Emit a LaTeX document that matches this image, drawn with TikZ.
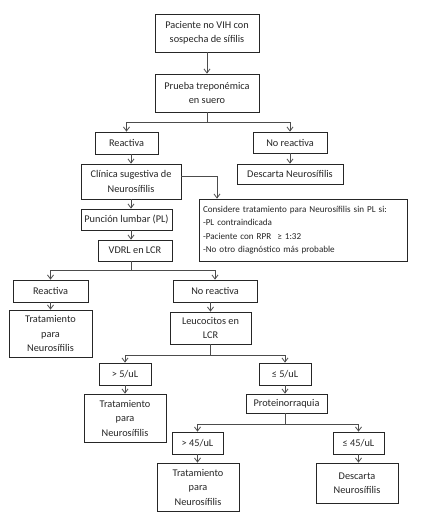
\documentclass[tikz,border=0pt]{standalone}
\usepackage{fontspec}
\setmainfont{Carlito}
\usetikzlibrary{arrows.meta}
\tikzset{
  box/.style={draw=black!85, line width=0.8pt, fill=white, text=black!85, align=center,
    inner sep=1pt, font=\fontsize{10.3}{14.5}\selectfont},
  line/.style={draw=black!70, line width=0.8pt},
  arr/.style={line, -{Straight Barb[length=4pt,width=6pt]}}
}
\begin{document}
\begin{tikzpicture}[x=1pt,y=-1pt]
	\useasboundingbox (0,0) rectangle (435,527);
	% nodes
	\node[box, minimum width=104, minimum height=38] (p1) at (207,33) {Paciente no VIH con\\sospecha de sífilis};
	\node[box, minimum width=104, minimum height=38] (p2) at (207,93) {Prueba treponémica\\en suero};
	\node[box, minimum width=63, minimum height=22] (r1) at (126.5,143) {Reactiva};
	\node[box, minimum width=74, minimum height=21] (nr1) at (290,142.5) {No reactiva};
	\node[box, minimum width=106, minimum height=20] (d1) at (290,174) {Descarta Neurosífilis};
	\node[box, minimum width=100, minimum height=35] (c1) at (131,181.5) {Clínica sugestiva de\\Neurosífilis};
	\node[box, minimum width=208, minimum height=62, align=left, text width=200,
	  font=\fontsize{9.1}{13.3}\selectfont] (k1) at (303,230)
	  {Considere tratamiento para Neurosífilis sin PL si:\\-PL contraindicada\\-Paciente con RPR \ ≥ 1:32\\-No otro diagnóstico más probable};
	\node[box, minimum width=91, minimum height=21] (pl) at (126.5,219.5) {Punción lumbar (PL)};
	\node[box, minimum width=74, minimum height=21] (vd) at (135,250.5) {VDRL en LCR};
	\node[box, minimum width=75, minimum height=22] (r2) at (50.5,291) {Reactiva};
	\node[box, minimum width=84, minimum height=22] (nr2) at (215,291) {No reactiva};
	\node[box, minimum width=83, minimum height=47] (t1) at (50.5,333.5) {Tratamiento\\para\\Neurosífilis};
	\node[box, minimum width=81, minimum height=32] (lc) at (210.5,328) {Leucocitos en\\LCR};
	\node[box, minimum width=52, minimum height=22] (g5) at (125,374) {> 5/uL};
	\node[box, minimum width=52, minimum height=22] (le5) at (285,374) {≤ 5/uL};
	\node[box, minimum width=82, minimum height=48] (t2) at (125,418) {Tratamiento\\para\\Neurosífilis};
	\node[box, minimum width=81, minimum height=19] (pr) at (286.5,403.5) {Proteinorraquia};
	\node[box, minimum width=51, minimum height=22] (g45) at (197.5,443) {> 45/uL};
	\node[box, minimum width=51, minimum height=22] (le45) at (358.5,443) {≤ 45/uL};
	\node[box, minimum width=82, minimum height=48] (t3) at (198,487) {Tratamiento\\para\\Neurosífilis};
	\node[box, minimum width=82, minimum height=40] (d2) at (357,483) {Descarta\\Neurosífilis};
	% connectors
	\draw[arr] (p1) -- (p2);
	\draw[line] (p2.south) -- ++(0,10) coordinate (b1);
	\draw[arr] (b1) -| (r1.north);
	\draw[arr] (b1) -| (nr1.north);
	\draw[arr] (nr1) -- (d1);
	\draw[arr] (r1.south -| c1) -- (c1.north);
	\draw[arr] (c1.east) ++(0,-5.5) coordinate (b2) -| (k1.north -| 217,0);
	\draw[arr] (c1.south) -- (c1.south |- pl.north);
	\draw[arr] (c1.south |- pl.south) -- (c1.south |- vd.north);
	\draw[line] (c1.south |- vd.south) -- ++(0,9) coordinate (b3);
	\draw[arr] (b3) -| (r2.north);
	\draw[arr] (b3) -| (nr2.north);
	\draw[arr] (r2) -- (t1);
	\draw[arr] (nr2.south -| lc) -- (lc.north);
	\draw[line] (lc.south) -- ++(0,11) coordinate (b4);
	\draw[arr] (b4) -| (g5.north);
	\draw[arr] (b4) -| (le5.north);
	\draw[arr] (g5) -- (g5 |- t2.north);
	\draw[arr] (le5) -- (le5 |- pr.north);
	\draw[line] (le5 |- pr.south) -- ++(0,11) coordinate (b5);
	\draw[arr] (b5) -| (g45.north);
	\draw[arr] (b5) -| (le45.north);
	\draw[arr] (g45) -- (g45 |- t3.north);
	\draw[arr] (le45) -- (le45 |- d2.north);
\end{tikzpicture}
\end{document}
